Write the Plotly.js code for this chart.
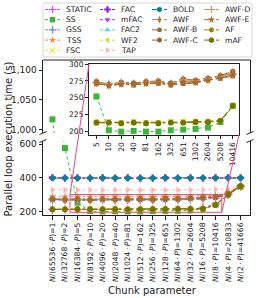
<!DOCTYPE html>
<html><head><meta charset="utf-8">
<script src="https://cdn.plot.ly/plotly-3.0.1.min.js"></script>
<style>html,body{margin:0;padding:0;background:#fff}#chart{width:258px;height:298px}</style>
</head><body><div id="chart"></div>
<script>
// ---------- data ----------
const chunkDivisors = [65536, 32768, 16384, 8192, 4096, 2048, 1024, 512, 256, 128, 64, 32, 16, 8, 4, 2];
const chunkValues = [1, 2, 5, 10, 20, 40, 81, 162, 325, 651, 1302, 2604, 5208, 10416, 20833, 41666];
const seriesNames = ['STATIC','SS','GSS','TSS','FSC','FAC','mFAC','FAC2','WF2','TAP','BOLD','AWF','AWF-B','AWF-C','AWF-D','AWF-E','AF','mAF'];

const STATIC = [212, 212, 211, 211, 211, 212, 211, 211, 212, 212, 213, 213, 222, 245, 300, 348];
const SS     = [1017, 576, 252, 202, 200, 201, 200, 200, 202, 203, 204, 206, 214, 238, 300, 345];
const GSS    = [268, 267, 268, 267, 268, 267, 268, 267, 268, 268, 269, 270, 272, 278, 300, 350];
const TSS    = [288, 287, 288, 287, 288, 288, 287, 288, 288, 288, 289, 290, 292, 295, 310, 352];
const FSC    = [213, 213, 213, 214, 213, 214, 213, 213, 214, 214, 214, 215, 217, 237, 298, 347];
const FAC    = [400, 398, 399, 398, 399, 398, 399, 398, 398, 399, 398, 399, 398, 399, 399, 399];
const mFAC   = [399, 397, 398, 397, 398, 397, 398, 397, 397, 398, 397, 398, 397, 398, 398, 398];
const FAC2   = [275, 275, 276, 275, 276, 275, 276, 275, 276, 276, 277, 278, 280, 285, 302, 350];
const WF2    = [214, 214, 213, 214, 213, 213, 214, 213, 213, 214, 214, 215, 218, 240, 299, 348];
const TAP    = [328, 327, 327, 328, 327, 327, 328, 327, 327, 328, 327, 328, 329, 330, 333, 345];
const BOLD   = [398, 399, 397, 399, 398, 399, 397, 398, 399, 398, 399, 398, 400, 399, 400, 399];
const AWF    = [272, 270, 272, 268, 271, 270, 272, 273, 270, 275, 274, 277, 282, 287, 305, 350];
const AWF_B  = [271, 269, 271, 269, 270, 269, 271, 271, 269, 271, 272, 276, 279, 282, 303, 348];
const AWF_C  = [274, 271, 274, 270, 273, 272, 274, 275, 272, 278, 276, 279, 283, 289, 308, 353];
const AWF_D  = [273, 270, 273, 271, 272, 271, 273, 274, 271, 277, 275, 278, 281, 285, 306, 351];
const AWF_E  = [271, 269, 271, 268, 270, 270, 271, 272, 270, 273, 273, 276, 279, 284, 304, 349];
const AF     = [213, 213, 214, 214, 213, 214, 213, 213, 214, 214, 215, 215, 216, 239, 300, 352];
const mAF    = [212, 212, 213, 213, 212, 213, 212, 212, 213, 213, 214, 214, 216, 238, 299, 350];
const seriesValues = [STATIC, SS, GSS, TSS, FSC, FAC, mFAC, FAC2, WF2, TAP, BOLD, AWF, AWF_B, AWF_C, AWF_D, AWF_E, AF, mAF];
const insetSeries = ['SS','FSC','AWF','AWF-B','AWF-C','AWF-D','AWF-E','AF','mAF'];
const insetStart = 2, insetEnd = 14;

// ---------- styles ----------
const styles = {
  'STATIC': {color:'#f03cf0', symbol:'cross-thin-open', dash:'dot'},
  'SS':     {color:'#3cb43c', symbol:'square', dash:'dot'},
  'GSS':    {color:'#6a8cff', symbol:'cross-thin-open', dash:'dot'},
  'TSS':    {color:'#ff8a3c', symbol:'star', dash:'dot'},
  'FSC':    {color:'#f2e63a', symbol:'x-thin-open', dash:'dot'},
  'FAC':    {color:'#8a1ed8', symbol:'cross', dash:'dot'},
  'mFAC':   {color:'#b03cf0', symbol:'triangle-down', dash:'dot'},
  'FAC2':   {color:'#3cdcf0', symbol:'triangle-up', dash:'dot'},
  'WF2':    {color:'#b4f01e', symbol:'triangle-left', dash:'dot'},
  'TAP':    {color:'#ffb4b4', symbol:'triangle-right', dash:'dot'},
  'BOLD':   {color:'#00868b', symbol:'hexagon', dash:'dashdot'},
  'AWF':    {color:'#b07a44', symbol:'diamond-tall', dash:'dashdot'},
  'AWF-B':  {color:'#9c6428', symbol:'pentagon', dash:'dashdot'},
  'AWF-C':  {color:'#a0602a', symbol:'hexagon', dash:'dashdot'},
  'AWF-D':  {color:'#c49868', symbol:'cross-thin-open', dash:'dashdot'},
  'AWF-E':  {color:'#a86a2c', symbol:'star', dash:'dashdot'},
  'AF':     {color:'#8c8c00', symbol:'hexagon2', dash:'dashdot'},
  'mAF':    {color:'#727200', symbol:'octagon', dash:'dashdot'}
};

// ---------- layout geometry (px) ----------
const W = 258, H = 298;
const G = {plotL:43, plotR:250, plotT:60, upperB:133, lowerT:141, plotB:215,
           insetL:89, insetR:239, insetT:64, insetB:135};
const xRange = [-0.75, 15.75];
const lowerRange = [179, 618];
const upperRange = [994, 1117];
const insetXRange = [-0.6, 11.5];
const insetYRange = [195, 300];
const FONT = 'DejaVu Sans, sans-serif';
const INK = '#222';
const ZOOM = '#f0467a';

const fx = p => p / W;
const fy = p => 1 - p / H;
const xToPx = i => G.plotL + (i - xRange[0]) / (xRange[1] - xRange[0]) * (G.plotR - G.plotL);
const yLowToPx = v => G.plotB - (v - lowerRange[0]) / (lowerRange[1] - lowerRange[0]) * (G.plotB - G.lowerT);

const keys = chunkValues.map(String);
const tickText = chunkValues.map((v, i) => `<i>N</i>/(${chunkDivisors[i]}\u2009·\u2009<i>P</i>)=${v}`);
const insetKeys = keys.slice(insetStart, insetEnd);

const traces = [];
function markerFor(st, size) {
  const open = st.symbol.endsWith('-open');
  return {symbol: st.symbol, size: size, color: st.color,
          line: {width: open ? 1.2 : 0, color: st.color}};
}
seriesNames.forEach((name, k) => {
  const st = styles[name];
  const vals = seriesValues[k];
  const base = {mode:'lines+markers', x: keys, y: vals, name: name, showlegend:false,
    line:{color: st.color, dash: st.dash, width: 1}, marker: markerFor(st, 6), hoverinfo:'skip'};
  traces.push(Object.assign({}, base, {xaxis:'x', yaxis:'y'}));
  traces.push(Object.assign({}, base, {xaxis:'x', yaxis:'y2'}));
});
seriesNames.forEach((name, k) => {
  if (!insetSeries.includes(name)) return;
  const st = styles[name];
  traces.push({mode:'lines+markers', x: insetKeys, y: seriesValues[k].slice(insetStart, insetEnd),
    xaxis:'x3', yaxis:'y3', showlegend:false, hoverinfo:'skip',
    line:{color: st.color, dash: st.dash, width: 1}, marker: markerFor(st, 6)});
});

// ---------- manual legend (4 columns) ----------
const legendColumns = [[0,1,2,3,4],[5,6,7,8,9],[10,11,12,13],[14,15,16,17]];
const legendColX = [45, 100, 152, 204];
const legendRowY = r => 9.5 + 10.2 * r;
const annotations = [];
legendColumns.forEach((col, c) => {
  col.forEach((k, r) => {
    const st = styles[seriesNames[k]];
    const x0 = legendColX[c], yy = legendRowY(r);
    traces.push({mode:'lines+markers', x:[x0, x0 + 7.5, x0 + 15], y:[yy, yy, yy],
      xaxis:'x4', yaxis:'y4', showlegend:false, hoverinfo:'skip', cliponaxis:false,
      line:{color: st.color, dash: st.dash, width: 1},
      marker: Object.assign(markerFor(st, 5.5), {opacity:[0, 1, 0]})});
    annotations.push({xref:'x4', yref:'y4', x: x0 + 19, y: yy, text: seriesNames[k],
      xanchor:'left', yanchor:'middle', showarrow:false, font:{family: FONT, size: 7.6, color: INK}});
  });
});
annotations.push({xref:'paper', yref:'paper', x: fx(8), y: fy((G.plotT + G.plotB) / 2 + 2),
  text:'Parallel loop execution time (s)', textangle:-90, showarrow:false,
  xanchor:'center', yanchor:'middle', font:{family: FONT, size: 10, color: INK}});
annotations.push({xref:'paper', yref:'paper', x: fx((G.plotL + G.plotR) / 2 + 6), y: fy(290),
  text:'Chunk parameter', showarrow:false, xanchor:'center', yanchor:'middle',
  font:{family: FONT, size: 10, color: INK}});

// ---------- shapes ----------
const shapes = [];
const line = (x0, y0, x1, y1, color, w) => ({type:'line', xref:'x4', yref:'y4', x0, y0, x1, y1,
  line:{color: color, width: w}, layer:'above'});
shapes.push({type:'path', xref:'x4', yref:'y4', layer:'below',
  path:`M 45 3 L 250 3 Q 252 3 252 5 L 252 55 Q 252 57 250 57 L 45 57 Q 43 57 43 55 L 43 5 Q 43 3 45 3 Z`,
  line:{color:'#cccccc', width:0.8}, fillcolor:'rgba(255,255,255,0.8)'});
shapes.push(line(G.plotL, G.plotT, G.plotR, G.plotT, INK, 1));
[[G.plotL, G.upperB], [G.plotR, G.upperB], [G.plotL, G.lowerT], [G.plotR, G.lowerT]].forEach(([x, y]) => {
  shapes.push(line(x - 3.5, y + 1.5, x + 3.5, y - 1.5, INK, 1));
});
const rx0 = xToPx(insetXRange[0] + insetStart), rx1 = xToPx(insetXRange[1] + insetStart);
const ry0 = yLowToPx(insetYRange[0]), ry1 = yLowToPx(insetYRange[1]);
shapes.push({type:'rect', xref:'x4', yref:'y4', x0: rx0, x1: rx1, y0: ry0, y1: ry1,
  line:{color: ZOOM, width: 1}, layer:'above'});
shapes.push(line(G.insetL, G.insetT, rx0, ry1, ZOOM, 1));
shapes.push(line(G.insetR, G.insetB, rx1, ry0, ZOOM, 1));

const tickFont = {family: FONT, size: 9, color: INK};
const layout = {
  width: W, height: H, margin:{l:0, r:0, t:0, b:0},
  paper_bgcolor:'#fff', plot_bgcolor:'rgba(0,0,0,0)', showlegend:false, hovermode:false,
  font:{family: FONT, color: INK},
  xaxis:{domain:[fx(G.plotL), fx(G.plotR)], anchor:'y', type:'category', categoryarray: keys,
    range: xRange, tickvals: keys, ticktext: tickText, tickangle:-90, tickfont:{family: FONT, size: 7.6, color: INK},
    ticks:'outside', ticklen:3.5, tickcolor: INK, showline:true, linecolor: INK, linewidth:1,
    showgrid:false, zeroline:false, automargin:false},
  yaxis:{domain:[fy(G.plotB), fy(G.lowerT)], anchor:'x', range: lowerRange, tickvals:[200, 400, 600],
    ticks:'outside', ticklen:3.5, tickcolor: INK, showline:true, mirror:true, linecolor: INK, linewidth:1,
    showgrid:false, zeroline:false, tickfont: tickFont, automargin:false},
  yaxis2:{domain:[fy(G.upperB), fy(G.plotT)], anchor:'x', range: upperRange, tickvals:[1000, 1050, 1100],
    tickformat:',d', ticks:'outside', ticklen:3.5, tickcolor: INK, showline:true, mirror:true, linecolor: INK, linewidth:1,
    showgrid:false, zeroline:false, tickfont: tickFont, automargin:false},
  xaxis3:{domain:[fx(G.insetL), fx(G.insetR)], anchor:'y3', type:'category', categoryarray: insetKeys,
    range: insetXRange, tickangle:-90, tickfont:{family: FONT, size: 7.6, color: INK},
    ticks:'outside', ticklen:3, tickcolor: INK, showline:true, mirror:true, linecolor: INK, linewidth:1,
    showgrid:false, zeroline:false, automargin:false},
  yaxis3:{domain:[fy(G.insetB), fy(G.insetT)], anchor:'x3', range: insetYRange, dtick:25, tick0:200,
    tickfont:{family: FONT, size: 7.6, color: INK},
    ticks:'outside', ticklen:3, tickcolor: INK, showline:true, mirror:true, linecolor: INK, linewidth:1,
    showgrid:false, zeroline:false, automargin:false},
  xaxis4:{domain:[0, 1], anchor:'y4', range:[0, W], visible:false, fixedrange:true},
  yaxis4:{domain:[0, 1], anchor:'x4', range:[H, 0], visible:false, fixedrange:true},
  shapes: shapes, annotations: annotations
};
Plotly.newPlot('chart', traces, layout, {staticPlot:true, displayModeBar:false});
</script></body></html>
